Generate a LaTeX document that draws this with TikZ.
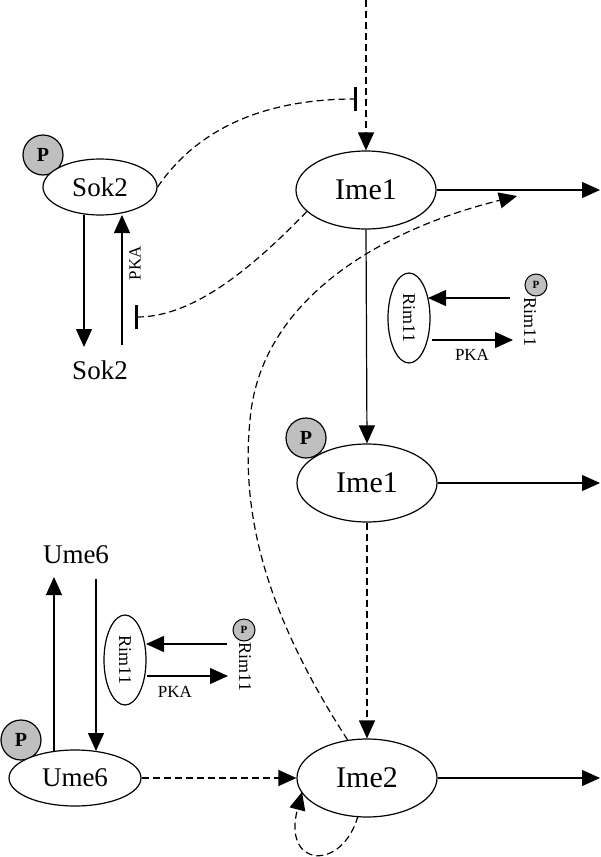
\documentclass[tikz,border=0pt]{standalone}
\usepackage{fontspec}
\setmainfont{Liberation Serif}
\usetikzlibrary{arrows.meta,shapes.geometric,calc}
\begin{document}
\begin{tikzpicture}[x=1pt,y=-1pt,line width=1.2pt,
 tri/.style={-{Triangle[length=18pt,width=16pt]}},
 inh/.style={-{Bar[width=24pt,line width=3pt]}},
 dsh/.style={dash pattern=on 7pt off 4pt},
 gene/.style={ellipse,draw,fill=white,inner sep=0pt,minimum width=140pt,minimum height=78pt,font=\fontsize{30}{36}\selectfont},
 genesm/.style={ellipse,draw,fill=white,inner sep=0pt,minimum width=132pt,minimum height=56pt,font=\fontsize{27}{32}\selectfont},
 lbl/.style={inner sep=0pt,font=\fontsize{27}{32}\selectfont},
 pcirc/.style={circle,draw,fill=black!25,inner sep=0pt,minimum size=40pt,font=\fontsize{20}{24}\selectfont\bfseries},
 psm/.style={circle,draw,fill=black!25,inner sep=0pt,minimum size=22pt,line width=1pt,font=\fontsize{11}{13}\selectfont\bfseries},
 rim/.style={ellipse,draw,fill=white,inner sep=0pt,minimum width=90pt,minimum height=42pt,rotate=-90,font=\fontsize{18}{21}\selectfont},
 rimt/.style={inner sep=0pt,rotate=-90,font=\fontsize{18}{21}\selectfont},
 pka/.style={inner sep=0pt,font=\fontsize{17}{20}\selectfont}]
\useasboundingbox (0,0) rectangle (600,857);
% P circles
\node[pcirc] (p1) at (43,155) {P};
\node[pcirc] (p2) at (306,438) {P};
\node[pcirc] (p3) at (21,740) {P};
% main nodes
\node[genesm,minimum width=114pt] (sok2) at (100,187) {Sok2};
\node[lbl] (sok2b) at (100,370) {Sok2};
\node[gene] (ime1) at (366,190) {Ime1};
\node[gene] (ime1p) at (367,483) {Ime1};
\node[gene] (ime2) at (367,778) {Ime2};
\node[genesm] (ume6) at (75,778) {Ume6};
\node[lbl] (ume6b) at (76,555) {Ume6};
% Rim11 top
\node[rim] (rimA) at (409,318) {Rim11};
\node[psm] (pA) at (536,285) {P};
\node[rimt] (rimAp) at (530,322) {Rim11};
\node[pka] (pkaA) at (472,355) {PKA};
% Rim11 bottom
\node[rim] (rimB) at (125,660) {Rim11};
\node[psm] (pB) at (244,630) {P};
\node[rimt] (rimBp) at (245,667) {Rim11};
\node[pka] (pkaB) at (175,692) {PKA};
% Sok2 PKA label
\node[pka,rotate=90] (pkaS) at (135,263) {PKA};
% coordinates
\coordinate (top) at (366,0);
\coordinate (o1) at (600,190);
\coordinate (o2) at (600,483);
\coordinate (o3) at (600,778);
\coordinate (s1a) at (84,215);
\coordinate (s1b) at (84,347);
\coordinate (s2a) at (122,345);
\coordinate (s2b) at (122,215);
\coordinate (inhS) at (135,317);
\coordinate (inhI) at (357,99);
\coordinate (lt) at (517,196);
\coordinate (u1a) at (54,751);
\coordinate (u1b) at (54,577);
\coordinate (u2a) at (96,579);
\coordinate (u2b) at (96,751);
\coordinate (ra1) at (510,298);
\coordinate (ra2) at (428,298);
\coordinate (ra3) at (432,340);
\coordinate (ra4) at (513,340);
\coordinate (rb1) at (227,644);
\coordinate (rb2) at (146,644);
\coordinate (rb3) at (147,676);
\coordinate (rb4) at (228,676);
\coordinate (loopA) at (358,816);
\coordinate (loopB) at (302,792);
% solid arrows
\draw[tri] (ime1.east) -- (o1);
\draw[tri] (ime1p.east) -- (o2);
\draw[tri] (ime2.east) -- (o3);
\draw[tri] (ime1.south) -- (ime1p.north);
\draw[tri] (s1a) -- (s1b);
\draw[tri] (s2a) -- (s2b);
\draw[tri] (u1a) -- (u1b);
\draw[tri] (u2a) -- (u2b);
\draw[tri] (ra1) -- (ra2);
\draw[tri] (ra3) -- (ra4);
\draw[tri] (rb1) -- (rb2);
\draw[tri] (rb3) -- (rb4);
% dashed
\draw[tri,dsh] (top) -- (ime1.north);
\draw[tri,dsh] (ime1p.south) -- (ime2.north);
\draw[tri,dsh] (ume6.east) -- (ime2.west);
\draw[inh,dsh] (sok2.east) .. controls (200,125) and (270,99) .. (inhI);
\draw[inh,dsh] (ime1.200) .. controls (255,265) and (195,317) .. (inhS);
\draw[tri,dsh] (ime2.117) .. controls (270,620) and (240,520) .. (250,420) .. controls (260,300) and (380,230) .. (lt);
\draw[tri,dsh] (loopA) .. controls (342,872) and (282,868) .. (loopB);
\end{tikzpicture}
\end{document}
